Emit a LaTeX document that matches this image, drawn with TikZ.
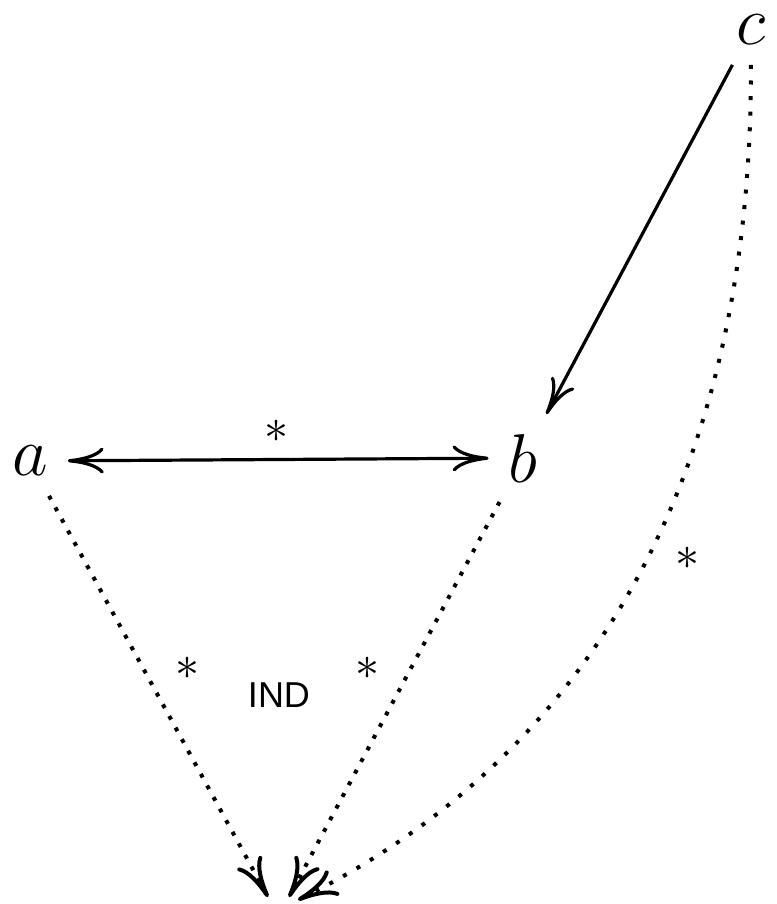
\documentclass[tikz,border=0pt]{standalone}
\usepackage{fontspec}
\newfontfamily\helv{Liberation Sans}
\usetikzlibrary{arrows.meta,calc}
\tikzset{
  vtx/.style={inner sep=0pt,outer sep=5pt,font=\fontsize{16.5}{20}\selectfont},
  lbl/.style={inner sep=0pt,font=\fontsize{12}{14}\selectfont},
  indlbl/.style={inner sep=0pt,font=\helv\fontsize{9}{11}\selectfont},
  cmtip/.tip={Computer Modern Rightarrow[length=9pt,width=6.5pt]},
  cmtipb/.tip={Computer Modern Rightarrow[length=10pt,width=7pt]},
  solidarr/.style={line width=0.8pt,-cmtip},
  dotarr/.style={line width=1pt,dash pattern=on 1pt off 2.3pt,-cmtipb},
  dotarrc/.style={line width=1pt,dash pattern=on 1pt off 2.9pt,-cmtipb}
}
\begin{document}
\begin{tikzpicture}[x=0.25pt,y=-0.25pt]
\useasboundingbox (0,0) rectangle (776,904);
\node[vtx] (a) at (30,461) {$a$};
\node[vtx] (b) at (523,458) {$b$};
\node[vtx] (c) at (751,30) {$c$};
\coordinate (ta) at (268,897);
\coordinate (tb) at (289,897);
\coordinate (tc) at (298,900);
\draw[solidarr,cmtip-cmtip] (a) -- (b);
\draw[solidarr] (c) -- (b);
\draw[dotarr] (a) -- (ta);
\draw[dotarr] (b) -- (tb);
\draw[dotarrc] (c.south) .. controls (752,560) and (520,790) .. (tc);
\node[lbl] (s1) at (277,431) {$\ast$};
\node[lbl] (s2) at (188,668) {$\ast$};
\node[lbl] (s3) at (368,668) {$\ast$};
\node[lbl] (s4) at (688,558) {$\ast$};
\node[indlbl] (ind) at (279,695) {IND};
\end{tikzpicture}
\end{document}
